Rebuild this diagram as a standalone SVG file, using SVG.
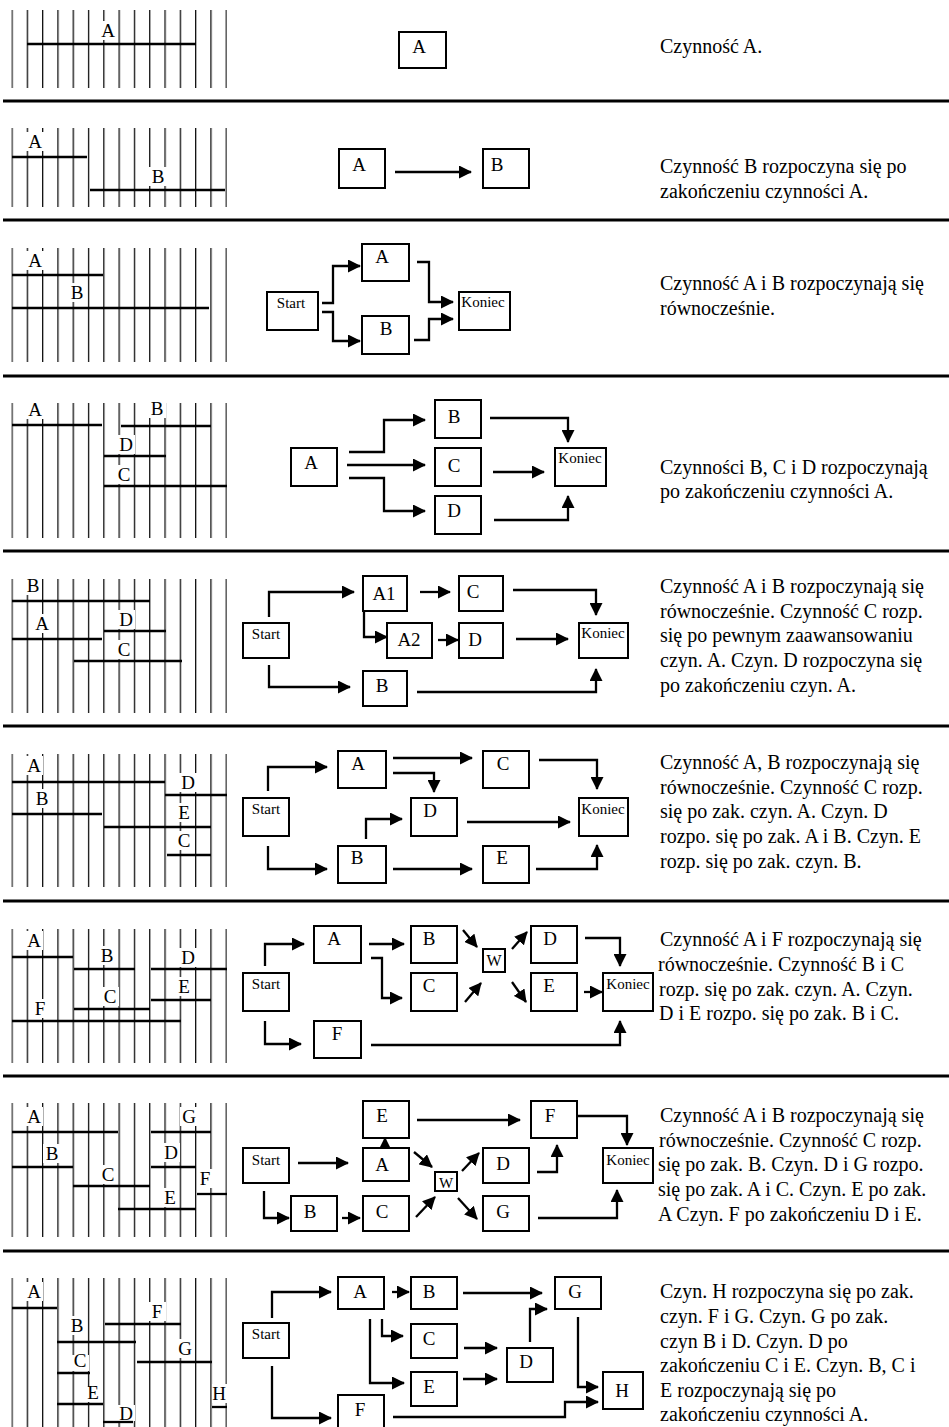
<svg xmlns="http://www.w3.org/2000/svg" width="949" height="1427" viewBox="0 0 949 1427">
<style>
.sep{stroke:#000;stroke-width:3}
.b{fill:#fff;stroke:#000;stroke-width:2}
.t{font-family:"Liberation Serif","Times New Roman",serif;font-size:19px;text-anchor:middle;fill:#000}
.s{font-family:"Liberation Serif","Times New Roman",serif;font-size:15px;text-anchor:middle;fill:#000}
.w{font-family:"Liberation Serif","Times New Roman",serif;font-size:16px;text-anchor:middle;fill:#000}
.d{font-family:"Liberation Serif","Times New Roman",serif;font-size:20px;fill:#000;white-space:pre}
.c{fill:none;stroke:#000;stroke-width:2.3;marker-end:url(#ah)}
.bar{stroke:#000;stroke-width:2.3}
.lbg{fill:#fff}
.gl{font-family:"Liberation Serif","Times New Roman",serif;font-size:19px;text-anchor:middle;fill:#000}
</style>
<defs>
<marker id="ah" markerUnits="userSpaceOnUse" viewBox="0 0 13 13" markerWidth="13" markerHeight="13" refX="12" refY="6.5" orient="auto">
<path d="M0,0 L13,6.5 L0,13 z" fill="#000"/>
</marker>
<pattern id="vl" patternUnits="userSpaceOnUse" x="11.4" y="0" width="15.3" height="10">
<rect x="0" y="0" width="1.3" height="10" fill="#111"/>
</pattern>
</defs>
<rect width="949" height="1427" fill="#fff"/>

<g id="separators">
<line class="sep" x1="3" y1="101" x2="949" y2="101"/>
<line class="sep" x1="3" y1="220" x2="949" y2="220"/>
<line class="sep" x1="3" y1="376" x2="949" y2="376"/>
<line class="sep" x1="3" y1="551" x2="949" y2="551"/>
<line class="sep" x1="3" y1="726" x2="949" y2="726"/>
<line class="sep" x1="3" y1="901" x2="949" y2="901"/>
<line class="sep" x1="3" y1="1076" x2="949" y2="1076"/>
<line class="sep" x1="3" y1="1251" x2="949" y2="1251"/>
</g>

<g id="grids">
<rect x="11.4" y="10" width="215.5" height="78" fill="url(#vl)"/>
<rect x="11.4" y="128" width="215.5" height="79" fill="url(#vl)"/>
<rect x="11.4" y="248" width="215.5" height="114" fill="url(#vl)"/>
<rect x="11.4" y="403" width="215.5" height="135" fill="url(#vl)"/>
<rect x="11.4" y="579" width="215.5" height="134" fill="url(#vl)"/>
<rect x="11.4" y="754" width="215.5" height="133" fill="url(#vl)"/>
<rect x="11.4" y="929" width="215.5" height="134" fill="url(#vl)"/>
<rect x="11.4" y="1103" width="215.5" height="134" fill="url(#vl)"/>
<rect x="11.4" y="1278" width="215.5" height="149" fill="url(#vl)"/>
<g class="lbg">
<rect x="99" y="21" width="18" height="19"/>
<rect x="26" y="132" width="18" height="19"/>
<rect x="149" y="167" width="18" height="19"/>
<rect x="26" y="251" width="18" height="19"/>
<rect x="68" y="283" width="18" height="19"/>
<rect x="26" y="400" width="18" height="19"/>
<rect x="148" y="399" width="18" height="19"/>
<rect x="117" y="435" width="18" height="19"/>
<rect x="115" y="465" width="18" height="19"/>
<rect x="24" y="576" width="18" height="19"/>
<rect x="33" y="614" width="18" height="19"/>
<rect x="117" y="610" width="18" height="19"/>
<rect x="115" y="640" width="18" height="19"/>
<rect x="25" y="756" width="18" height="19"/>
<rect x="179" y="773" width="18" height="19"/>
<rect x="33" y="789" width="18" height="19"/>
<rect x="175" y="803" width="18" height="19"/>
<rect x="175" y="831" width="18" height="19"/>
<rect x="25" y="931" width="18" height="19"/>
<rect x="98" y="946" width="18" height="19"/>
<rect x="179" y="948" width="18" height="19"/>
<rect x="175" y="977" width="18" height="19"/>
<rect x="101" y="987" width="18" height="19"/>
<rect x="31" y="999" width="18" height="19"/>
<rect x="25" y="1107" width="18" height="19"/>
<rect x="180" y="1107" width="18" height="19"/>
<rect x="43" y="1144" width="18" height="19"/>
<rect x="162" y="1143" width="18" height="19"/>
<rect x="99" y="1165" width="18" height="19"/>
<rect x="197" y="1169" width="18" height="19"/>
<rect x="161" y="1188" width="18" height="19"/>
<rect x="25" y="1282" width="18" height="19"/>
<rect x="148" y="1302" width="18" height="19"/>
<rect x="68" y="1316" width="18" height="19"/>
<rect x="176" y="1339" width="18" height="19"/>
<rect x="71" y="1355" width="18" height="16"/>
<rect x="84" y="1387" width="18" height="15"/>
<rect x="117" y="1405" width="18" height="16"/>
<rect x="212" y="1384" width="15" height="19"/>
</g>
<g>
<line class="bar" x1="27" y1="44" x2="196" y2="44"/>
<line class="bar" x1="12" y1="157" x2="87" y2="157"/>
<line class="bar" x1="90" y1="190" x2="225" y2="190"/>
<line class="bar" x1="12" y1="275" x2="103" y2="275"/>
<line class="bar" x1="12" y1="308" x2="209" y2="308"/>
<line class="bar" x1="12" y1="425" x2="102" y2="425"/>
<line class="bar" x1="121" y1="426" x2="211" y2="426"/>
<line class="bar" x1="104" y1="456" x2="166" y2="456"/>
<line class="bar" x1="104" y1="486" x2="227" y2="486"/>
<line class="bar" x1="12" y1="601" x2="150" y2="601"/>
<line class="bar" x1="12" y1="639" x2="102" y2="639"/>
<line class="bar" x1="104" y1="631" x2="166" y2="631"/>
<line class="bar" x1="74" y1="661" x2="182" y2="661"/>
<line class="bar" x1="12" y1="782" x2="165" y2="782"/>
<line class="bar" x1="165" y1="795" x2="227" y2="795"/>
<line class="bar" x1="12" y1="814" x2="102" y2="814"/>
<line class="bar" x1="104" y1="827" x2="211" y2="827"/>
<line class="bar" x1="167" y1="855" x2="211" y2="855"/>
<line class="bar" x1="12" y1="957" x2="73" y2="957"/>
<line class="bar" x1="74" y1="969" x2="135" y2="969"/>
<line class="bar" x1="151" y1="969" x2="227" y2="969"/>
<line class="bar" x1="151" y1="1000" x2="211" y2="1000"/>
<line class="bar" x1="74" y1="1009" x2="150" y2="1009"/>
<line class="bar" x1="12" y1="1021" x2="181" y2="1021"/>
<line class="bar" x1="12" y1="1132" x2="118" y2="1132"/>
<line class="bar" x1="151" y1="1132" x2="211" y2="1132"/>
<line class="bar" x1="12" y1="1167" x2="73" y2="1167"/>
<line class="bar" x1="151" y1="1167" x2="196" y2="1167"/>
<line class="bar" x1="73" y1="1186" x2="150" y2="1186"/>
<line class="bar" x1="197" y1="1194" x2="227" y2="1194"/>
<line class="bar" x1="118" y1="1209" x2="196" y2="1209"/>
<line class="bar" x1="12" y1="1308" x2="57" y2="1308"/>
<line class="bar" x1="105" y1="1324" x2="181" y2="1324"/>
<line class="bar" x1="57" y1="1342" x2="136" y2="1342"/>
<line class="bar" x1="137" y1="1362" x2="212" y2="1362"/>
<line class="bar" x1="57" y1="1373" x2="90" y2="1373"/>
<line class="bar" x1="57" y1="1404" x2="103" y2="1404"/>
<line class="bar" x1="103" y1="1422" x2="133" y2="1422"/>
<line class="bar" x1="212" y1="1407" x2="227" y2="1407"/>
</g>
<g class="gl">
<text x="108" y="37">A</text>
<text x="35" y="148">A</text>
<text x="158" y="183">B</text>
<text x="35" y="267">A</text>
<text x="77" y="299">B</text>
<text x="35" y="416">A</text>
<text x="157" y="415">B</text>
<text x="126" y="451">D</text>
<text x="124" y="481">C</text>
<text x="33" y="592">B</text>
<text x="42" y="630">A</text>
<text x="126" y="626">D</text>
<text x="124" y="656">C</text>
<text x="34" y="772">A</text>
<text x="188" y="789">D</text>
<text x="42" y="805">B</text>
<text x="184" y="819">E</text>
<text x="184" y="847">C</text>
<text x="34" y="947">A</text>
<text x="107" y="962">B</text>
<text x="188" y="964">D</text>
<text x="184" y="993">E</text>
<text x="110" y="1003">C</text>
<text x="40" y="1015">F</text>
<text x="34" y="1123">A</text>
<text x="189" y="1123">G</text>
<text x="52" y="1160">B</text>
<text x="171" y="1159">D</text>
<text x="108" y="1181">C</text>
<text x="205" y="1185">F</text>
<text x="170" y="1204">E</text>
<text x="34" y="1298">A</text>
<text x="157" y="1318">F</text>
<text x="77" y="1332">B</text>
<text x="185" y="1355">G</text>
<text x="80" y="1367">C</text>
<text x="93" y="1399">E</text>
<text x="126" y="1420">D</text>
<text x="219" y="1400">H</text>
</g>
</g>

<g id="connectors">
<path class="c" d="M395 172 H471"/>
<path class="c" d="M322 303 H333 V266 H360"/>
<path class="c" d="M322 312 H333 V341 H360"/>
<path class="c" d="M417 262 H429 V302 H453"/>
<path class="c" d="M414 340 H429 V319 H453"/>
<path class="c" d="M349 452 H384 V420 H425"/>
<path class="c" d="M347 465 H425"/>
<path class="c" d="M349 478 H384 V511 H425"/>
<path class="c" d="M490 418 H568 V442"/>
<path class="c" d="M493 472 H544"/>
<path class="c" d="M494 520 H568 V496"/>
<path class="c" d="M269 617 V592 H354"/>
<path class="c" d="M269 665 V687 H350"/>
<path class="c" d="M364 612 V637 H387"/>
<path class="c" d="M420 592 H450"/>
<path class="c" d="M438 640 H458"/>
<path class="c" d="M513 590 H596 V615"/>
<path class="c" d="M516 639 H568"/>
<path class="c" d="M417 692 H596 V669"/>
<path class="c" d="M268 791 V767 H327"/>
<path class="c" d="M268 846 V869 H327"/>
<path class="c" d="M393 758 H472"/>
<path class="c" d="M393 773 H434 V792"/>
<path class="c" d="M366 839 V819 H402"/>
<path class="c" d="M467 822 H570"/>
<path class="c" d="M539 760 H597 V789"/>
<path class="c" d="M393 869 H472"/>
<path class="c" d="M536 869 H597 V845"/>
<path class="c" d="M265 966 V944 H304"/>
<path class="c" d="M265 1021 V1044 H301"/>
<path class="c" d="M369 944 H404"/>
<path class="c" d="M371 958 H382 V998 H402"/>
<path class="c" d="M463 930 L477 947"/>
<path class="c" d="M465 1002 L481 983"/>
<path class="c" d="M512 949 L527 932"/>
<path class="c" d="M512 982 L526 1002"/>
<path class="c" d="M585 938 H620 V966"/>
<path class="c" d="M584 992 H602"/>
<path class="c" d="M371 1045 H620 V1021"/>
<path class="c" d="M298 1163 H348"/>
<path class="c" d="M264 1191 V1218 H289"/>
<path class="c" d="M342 1218 H360"/>
<path class="c" d="M385 1149 V1138"/>
<path class="c" d="M414 1152 L432 1167"/>
<path class="c" d="M416 1217 L435 1197"/>
<path class="c" d="M462 1171 L479 1153"/>
<path class="c" d="M458 1198 L477 1219"/>
<path class="c" d="M417 1120 H520"/>
<path class="c" d="M537 1172 H557 V1145"/>
<path class="c" d="M577 1116 H627 V1145"/>
<path class="c" d="M538 1218 H617 V1190"/>
<path class="c" d="M272 1318 V1292 H331"/>
<path class="c" d="M272 1366 V1418 H331"/>
<path class="c" d="M392 1292 H409"/>
<path class="c" d="M382 1319 V1336 H403"/>
<path class="c" d="M370 1319 V1383 H404"/>
<path class="c" d="M463 1293 H542"/>
<path class="c" d="M464 1348 H497"/>
<path class="c" d="M463 1379 H497"/>
<path class="c" d="M530 1342 V1309 H547"/>
<path class="c" d="M578 1317 V1387 H598"/>
<path class="c" d="M393 1417 H565 V1402 H598"/>
</g>

<g id="r1-A"><rect class="b" x="399" y="32" width="47" height="36"/><text class="t" x="419" y="53">A</text></g>

<g id="r2-A"><rect class="b" x="339" y="149" width="46" height="39"/><text class="t" x="359" y="171">A</text></g>
<g id="r2-B"><rect class="b" x="483" y="149" width="46" height="39"/><text class="t" x="497" y="171">B</text></g>

<g id="r3-Start"><rect class="b" x="267" y="292" width="51" height="38"/><text class="s" x="291" y="308">Start</text></g>
<g id="r3-A"><rect class="b" x="362" y="244" width="47" height="37"/><text class="t" x="382" y="263">A</text></g>
<g id="r3-B"><rect class="b" x="362" y="316" width="47" height="38"/><text class="t" x="386" y="335">B</text></g>
<g id="r3-Koniec"><rect class="b" x="459" y="292" width="51" height="38"/><text class="s" x="483" y="307">Koniec</text></g>

<g id="r4-A"><rect class="b" x="291" y="448" width="46" height="38"/><text class="t" x="311" y="469">A</text></g>
<g id="r4-B"><rect class="b" x="435" y="400" width="46" height="38"/><text class="t" x="454" y="423">B</text></g>
<g id="r4-C"><rect class="b" x="435" y="448" width="46" height="38"/><text class="t" x="454" y="472">C</text></g>
<g id="r4-D"><rect class="b" x="435" y="496" width="46" height="38"/><text class="t" x="454" y="517">D</text></g>
<g id="r4-Koniec"><rect class="b" x="555" y="448" width="51" height="38"/><text class="s" x="580" y="463">Koniec</text></g>

<g id="r5-Start"><rect class="b" x="243" y="623" width="46" height="35"/><text class="s" x="266" y="639">Start</text></g>
<g id="r5-A1"><rect class="b" x="363" y="576" width="44" height="35"/><text class="t" x="384" y="600">A1</text></g>
<g id="r5-C"><rect class="b" x="459" y="576" width="44" height="35"/><text class="t" x="473" y="598">C</text></g>
<g id="r5-A2"><rect class="b" x="387" y="623" width="45" height="35"/><text class="t" x="409" y="646">A2</text></g>
<g id="r5-D"><rect class="b" x="459" y="623" width="44" height="35"/><text class="t" x="475" y="646">D</text></g>
<g id="r5-B"><rect class="b" x="363" y="671" width="44" height="35"/><text class="t" x="382" y="692">B</text></g>
<g id="r5-Koniec"><rect class="b" x="579" y="623" width="49" height="35"/><text class="s" x="603" y="638">Koniec</text></g>

<g id="r6-Start"><rect class="b" x="243" y="798" width="46" height="38"/><text class="s" x="266" y="814">Start</text></g>
<g id="r6-A"><rect class="b" x="338" y="751" width="48" height="37"/><text class="t" x="358" y="770">A</text></g>
<g id="r6-C"><rect class="b" x="483" y="751" width="46" height="37"/><text class="t" x="503" y="770">C</text></g>
<g id="r6-D"><rect class="b" x="411" y="798" width="46" height="38"/><text class="t" x="430" y="817">D</text></g>
<g id="r6-B"><rect class="b" x="338" y="846" width="48" height="37"/><text class="t" x="357" y="864">B</text></g>
<g id="r6-E"><rect class="b" x="483" y="846" width="46" height="37"/><text class="t" x="502" y="864">E</text></g>
<g id="r6-Koniec"><rect class="b" x="579" y="798" width="49" height="38"/><text class="s" x="603" y="814">Koniec</text></g>

<g id="r7-Start"><rect class="b" x="243" y="973" width="46" height="38"/><text class="s" x="266" y="989">Start</text></g>
<g id="r7-A"><rect class="b" x="314" y="926" width="47" height="37"/><text class="t" x="334" y="945">A</text></g>
<g id="r7-B"><rect class="b" x="411" y="926" width="46" height="37"/><text class="t" x="429" y="945">B</text></g>
<g id="r7-C"><rect class="b" x="411" y="973" width="46" height="38"/><text class="t" x="429" y="992">C</text></g>
<g id="r7-W"><rect class="b" x="483" y="949" width="22" height="23"/><text class="w" x="494" y="966">W</text></g>
<g id="r7-D"><rect class="b" x="531" y="926" width="46" height="37"/><text class="t" x="550" y="945">D</text></g>
<g id="r7-E"><rect class="b" x="531" y="973" width="46" height="38"/><text class="t" x="549" y="992">E</text></g>
<g id="r7-F"><rect class="b" x="314" y="1021" width="47" height="37"/><text class="t" x="337" y="1040">F</text></g>
<g id="r7-Koniec"><rect class="b" x="603" y="973" width="50" height="38"/><text class="s" x="628" y="989">Koniec</text></g>

<g id="r8-E"><rect class="b" x="363" y="1101" width="46" height="37"/><text class="t" x="382" y="1122">E</text></g>
<g id="r8-F"><rect class="b" x="531" y="1101" width="46" height="37"/><text class="t" x="550" y="1122">F</text></g>
<g id="r8-Start"><rect class="b" x="243" y="1148" width="46" height="35"/><text class="s" x="266" y="1165">Start</text></g>
<g id="r8-A"><rect class="b" x="363" y="1148" width="46" height="33"/><text class="t" x="382" y="1171">A</text></g>
<g id="r8-W"><rect class="b" x="435" y="1172" width="22" height="19"/><text class="s" x="446" y="1188">W</text></g>
<g id="r8-D"><rect class="b" x="483" y="1148" width="46" height="35"/><text class="t" x="503" y="1170">D</text></g>
<g id="r8-Koniec"><rect class="b" x="603" y="1148" width="50" height="35"/><text class="s" x="628" y="1165">Koniec</text></g>
<g id="r8-B"><rect class="b" x="291" y="1196" width="46" height="35"/><text class="t" x="310" y="1218">B</text></g>
<g id="r8-C"><rect class="b" x="363" y="1196" width="46" height="35"/><text class="t" x="382" y="1218">C</text></g>
<g id="r8-G"><rect class="b" x="483" y="1196" width="46" height="35"/><text class="t" x="503" y="1218">G</text></g>

<g id="r9-Start"><rect class="b" x="243" y="1323" width="46" height="35"/><text class="s" x="266" y="1339">Start</text></g>
<g id="r9-A"><rect class="b" x="338" y="1277" width="46" height="32"/><text class="t" x="360" y="1298">A</text></g>
<g id="r9-B"><rect class="b" x="411" y="1277" width="46" height="32"/><text class="t" x="429" y="1298">B</text></g>
<g id="r9-C"><rect class="b" x="411" y="1324" width="46" height="34"/><text class="t" x="429" y="1345">C</text></g>
<g id="r9-E"><rect class="b" x="411" y="1372" width="46" height="34"/><text class="t" x="429" y="1393">E</text></g>
<g id="r9-D"><rect class="b" x="507" y="1348" width="46" height="34"/><text class="t" x="526" y="1368">D</text></g>
<g id="r9-G"><rect class="b" x="555" y="1277" width="46" height="32"/><text class="t" x="575" y="1298">G</text></g>
<g id="r9-H"><rect class="b" x="603" y="1372" width="40" height="37"/><text class="t" x="622" y="1397">H</text></g>
<g id="r9-F"><rect class="b" x="338" y="1395" width="46" height="40"/><text class="t" x="360" y="1416">F</text></g>

<g id="descriptions" class="d">
<text x="660" y="53">Czynność A.</text>
<text x="660" y="173">Czynność B rozpoczyna się po</text>
<text x="660" y="198">zakończeniu czynności A.</text>
<text x="660" y="290">Czynność A i B rozpoczynają się</text>
<text x="660" y="315">równocześnie.</text>
<text x="660" y="474">Czynności B, C i D rozpoczynają</text>
<text x="660" y="498">po zakończeniu czynności A.</text>
<text x="660" y="593">Czynność A i B rozpoczynają się</text>
<text x="660" y="618">równocześnie. Czynność  C rozp.</text>
<text x="660" y="642">się po pewnym zaawansowaniu</text>
<text x="660" y="667">czyn. A. Czyn. D rozpoczyna się</text>
<text x="660" y="692">po zakończeniu czyn. A.</text>
<text x="660" y="769">Czynność A, B rozpoczynają się</text>
<text x="660" y="794">równocześnie. Czynność C rozp.</text>
<text x="660" y="818">się po zak. czyn. A. Czyn. D</text>
<text x="660" y="843">rozpo. się po zak. A i B. Czyn. E</text>
<text x="660" y="868">rozp. się po zak. czyn. B.</text>
<text x="660" y="946">Czynność A i F rozpoczynają się</text>
<text x="658" y="971">równocześnie. Czynność B i C</text>
<text x="659" y="996">rozp. się po zak. czyn. A. Czyn.</text>
<text x="659" y="1020">D i E rozpo. się po zak. B i C.</text>
<text x="660" y="1122">Czynność A i B rozpoczynają się</text>
<text x="659" y="1147">równocześnie. Czynność C rozp.</text>
<text x="658" y="1171">się po zak. B. Czyn. D i G rozpo.</text>
<text x="658" y="1196">się po zak. A i C. Czyn. E po zak.</text>
<text x="658" y="1221">A Czyn. F po zakończeniu D i E.</text>
<text x="660" y="1298">Czyn. H rozpoczyna się po zak.</text>
<text x="660" y="1323">czyn. F i G. Czyn. G po zak.</text>
<text x="660" y="1348">czyn B i D. Czyn. D po</text>
<text x="660" y="1372">zakończeniu C i E. Czyn. B, C i</text>
<text x="660" y="1397">E rozpoczynają się po</text>
<text x="660" y="1421">zakończeniu czynności A.</text>
</g>
</svg>
